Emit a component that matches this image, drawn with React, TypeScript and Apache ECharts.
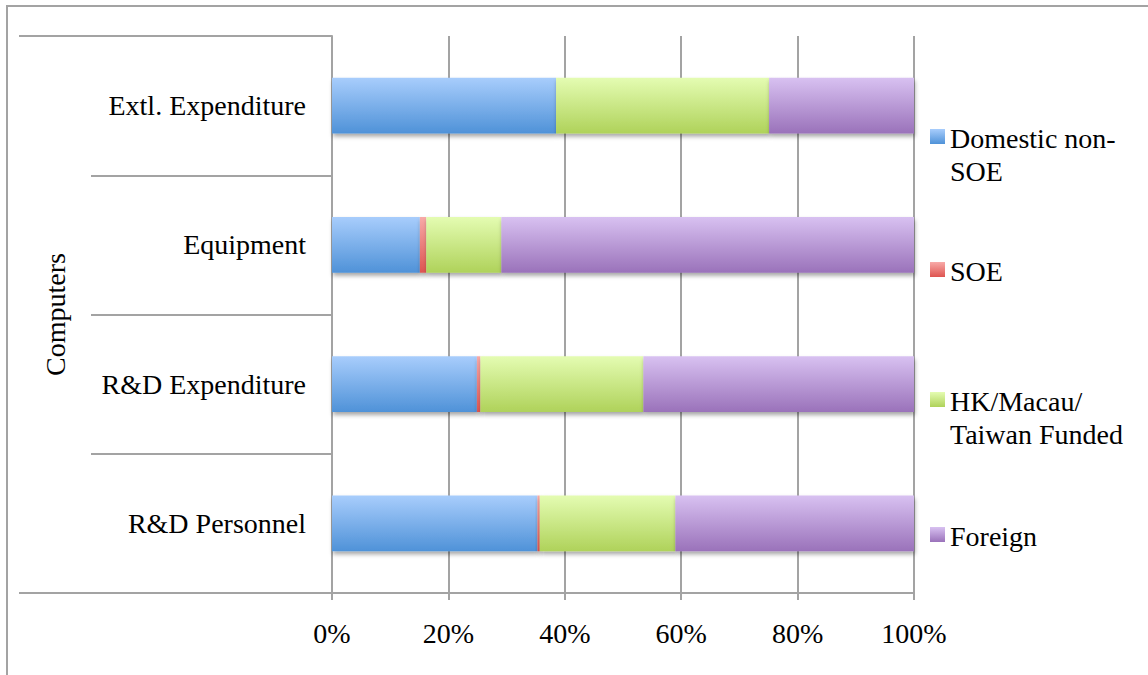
import React, { useEffect, useRef } from "react";
import * as echarts from "echarts";

const categories = ["R&D Personnel", "R&D Expenditure", "Equipment", "Extl. Expenditure"];
const groupLabel = "Computers";
const seriesNames = ["Domestic non-SOE", "SOE", "HK/Macau/Taiwan Funded", "Foreign"];
const legendLines = [["Domestic non-", "SOE"], ["SOE"], ["HK/Macau/", "Taiwan Funded"], ["Foreign"]];
const domesticNonSOE = [35.3, 24.9, 15.1, 38.5];
const soe = [0.4, 0.6, 1.1, 0];
const hkMacauTaiwan = [23.3, 28.0, 12.9, 36.6];
const foreign = [41.0, 46.5, 70.9, 24.9];
const xTicks = [0, 20, 40, 60, 80, 100];

const seriesData = [domesticNonSOE, soe, hkMacauTaiwan, foreign];
const gradients: [string, string][] = [
  ["#a8cdfc", "#4f92d8"],
  ["#f8aaa8", "#de5450"],
  ["#e4fcb2", "#afd25a"],
  ["#d8c1f1", "#9a72ba"],
];

const FONT = "Liberation Serif";
const FS = 28;
const GRAY = "#a3a3a3";

export default function App() {
  const ref = useRef<HTMLDivElement>(null);
  useEffect(() => {
    if (!ref.current) return;
    const chart = echarts.init(ref.current, null, { renderer: "svg" });
    const grad = (c: [string, string]) =>
      new echarts.graphic.LinearGradient(0, 0, 0, 1, [
        { offset: 0, color: c[0] },
        { offset: 1, color: c[1] },
      ]);
    const legendTops = [122, 255, 385, 520];
    const legendGraphics: any[] = [];
    legendLines.forEach((lines, i) => {
      legendGraphics.push({
        type: "rect",
        shape: { x: 930, y: legendTops[i] + 7, width: 15, height: 15 },
        style: { fill: grad(gradients[i]) },
      });
      legendGraphics.push({
        type: "text",
        x: 950,
        y: legendTops[i],
        style: {
          text: lines.join("\n"),
          font: `${FS}px "${FONT}"`,
          fill: "#000",
          lineHeight: 33,
          verticalAlign: "top",
        },
      });
    });
    chart.setOption({
      animation: false,
      backgroundColor: "#fff",
      grid: { left: 332, right: 234, top: 36, bottom: 82 },
      xAxis: {
        type: "value",
        min: 0,
        max: 100,
        interval: 20,
        axisLine: { show: true, lineStyle: { color: GRAY, width: 2 } },
        axisTick: { show: true, length: 7, lineStyle: { color: GRAY, width: 2 } },
        splitLine: { show: true, lineStyle: { color: GRAY, width: 2 } },
        axisLabel: {
          formatter: (v: number) => (xTicks.includes(v) ? `${v}%` : ""),
          fontFamily: FONT,
          fontSize: FS,
          color: "#000",
          margin: 26,
        },
      },
      yAxis: [
        {
          type: "category",
          data: categories,
          axisLine: { show: true, lineStyle: { color: GRAY, width: 2 } },
          axisTick: { show: true, length: 241, lineStyle: { color: GRAY, width: 2 } },
          axisLabel: { fontFamily: FONT, fontSize: FS, color: "#000", margin: 26 },
          splitLine: { show: false },
        },
        {
          type: "category",
          data: [groupLabel],
          position: "left",
          axisLine: { show: false },
          axisTick: { show: true, length: 313, lineStyle: { color: GRAY, width: 2 } },
          axisLabel: { show: false },
          name: groupLabel,
          nameLocation: "middle",
          nameGap: 263,
          nameTextStyle: { fontFamily: FONT, fontSize: FS, color: "#000" },
        },
      ],
      series: seriesNames.map((name, i) => ({
        name,
        type: "bar",
        stack: "total",
        yAxisIndex: 0,
        barWidth: "40%",
        data: seriesData[i],
        itemStyle: {
          color: grad(gradients[i]),
          shadowBlur: 4,
          shadowOffsetY: 3,
          shadowOffsetX: 1,
          shadowColor: "rgba(0,0,0,0.35)",
        },
      })),
      graphic: [
        {
          type: "rect",
          shape: { x: 7, y: 6, width: 1200, height: 720 },
          style: { fill: "none", stroke: GRAY, lineWidth: 2 },
          silent: true,
        },
        ...legendGraphics,
      ],
    });
    return () => chart.dispose();
  }, []);
  return (
    <div
      ref={ref}
      style={{ position: "fixed", left: 0, top: 0, width: 1148, height: 675 }}
    />
  );
}
